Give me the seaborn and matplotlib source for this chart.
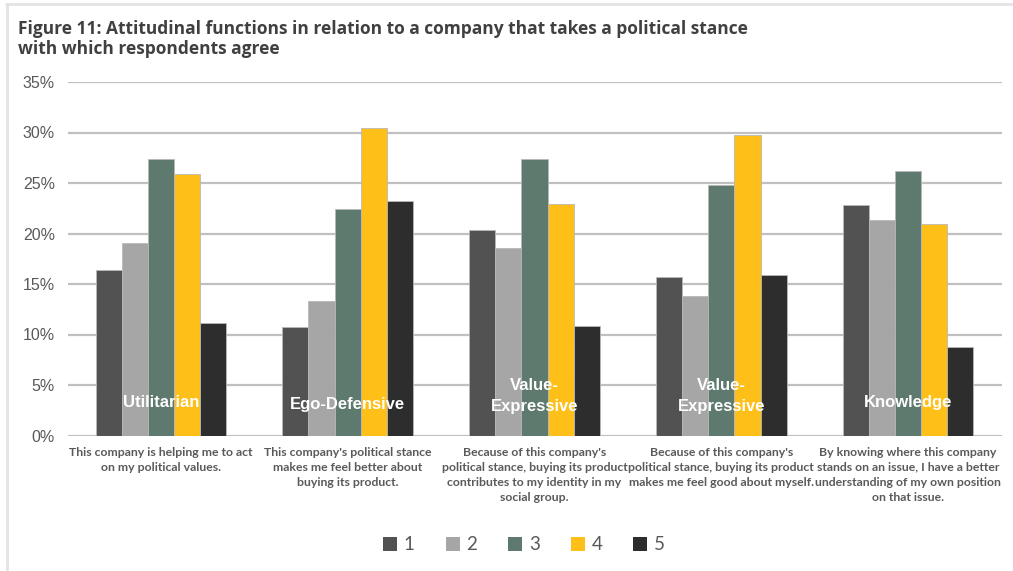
import matplotlib
matplotlib.use("Agg")
import matplotlib.pyplot as plt
from matplotlib.patches import Patch
from matplotlib.lines import Line2D
import seaborn as sns
import pandas as pd

# Survey statements (x categories) and the function each one measures
statements = [
    "This company is helping me to act\non my political values.",
    "This company's political stance\nmakes me feel better about\nbuying its product.",
    "Because of this company's\npolitical stance, buying its product\ncontributes to my identity in my\nsocial group.",
    "Because of this company's\npolitical stance, buying its product\nmakes me feel good about myself.",
    "By knowing where this company\nstands on an issue, I have a better\nunderstanding of my own position\non that issue.",
]
functions = ["Utilitarian", "Ego-Defensive", "Value-\nExpressive", "Value-\nExpressive", "Knowledge"]
ratings = ["1", "2", "3", "4", "5"]

# Share of respondents (%) giving each rating, per statement
rating_1 = [16.4, 10.7, 20.3, 15.7, 22.8]
rating_2 = [19.1, 13.3, 18.6, 13.8, 21.3]
rating_3 = [27.4, 22.4, 27.4, 24.8, 26.2]
rating_4 = [25.9, 30.4, 22.9, 29.8, 20.9]
rating_5 = [11.1, 23.2, 10.8, 15.9, 8.8]

colors = ["#525252", "#A6A6A6", "#5E7A6E", "#FEBF18", "#2D2D2D"]

series = [rating_1, rating_2, rating_3, rating_4, rating_5]
rows = []
for r, vals in zip(ratings, series):
    for s, v in zip(statements, vals):
        rows.append({"statement": s, "rating": r, "share": v})
df = pd.DataFrame(rows)

sns.set_theme(style="white")
plt.rcParams["font.family"] = ["Liberation Sans", "DejaVu Sans"]

fig = plt.figure(figsize=(10.13, 5.71), dpi=100)
ax = fig.add_axes([67.5 / 1013, 135.5 / 571, 934 / 1013, 353.5 / 571])

sns.barplot(data=df, x="statement", y="share", hue="rating", order=statements,
            hue_order=ratings, palette=colors, saturation=1, width=0.7, gap=0,
            edgecolor="#B8B8B8", linewidth=0.6, errorbar=None, legend=False,
            ax=ax, zorder=3)

ax.set_xlim(-0.5, 4.5)
ax.set_ylim(0, 35)
ax.set_yticks(range(0, 36, 5))
ax.set_yticklabels([f"{v}%" for v in range(0, 36, 5)], fontsize=11.5, color="#595959")
ax.yaxis.grid(True, color="#C0C0C0", linewidth=1.6, zorder=0)
ax.set_axisbelow(True)
for side in ["top", "right", "left", "bottom"]:
    ax.spines[side].set_visible(False)
ax.tick_params(axis="y", length=0, pad=9)
ax.tick_params(axis="x", length=0, pad=8)
ax.set_xlabel("")
ax.set_ylabel("")
ax.set_xticks(range(len(statements)))
ax.set_xticklabels(statements, fontsize=8.8, color="#5A5A5A", family="Lato",
                   fontweight="bold", linespacing=1.45)

# Function names written inside the bars
label_y = [3.3, 3.1, 3.9, 3.9, 3.3]
for i, (name, y) in enumerate(zip(functions, label_y)):
    ax.text(i, y, name, ha="center", va="center", color="white",
            fontsize=12, fontweight="bold", linespacing=1.45, zorder=5)

fig.text(18 / 1013, 1 - 39 / 571,
         "Figure 11: Attitudinal functions in relation to a company that takes a political stance\nwith which respondents agree",
         ha="left", va="center", fontsize=12.5, fontweight="bold", color="#404040",
         family="Open Sans", linespacing=1.2)

# Thin frame lines along the top and left edges
fig.add_artist(Line2D([6 / 1013, 1], [1 - 4 / 571, 1 - 4 / 571], color="#E4E4E4", linewidth=2))
fig.add_artist(Line2D([6.5 / 1013, 6.5 / 1013], [0, 1 - 4 / 571], color="#E4E4E4", linewidth=2))

handles = [Patch(facecolor=c, edgecolor="none") for c in colors]
fig.legend(handles, ratings, loc="center", bbox_to_anchor=(524 / 1013, 1 - 545 / 571),
           ncol=5, frameon=False, handlelength=0.75, handleheight=0.75,
           handletextpad=0.35, columnspacing=1.65,
           prop={"family": "Lato", "size": 13.5}, labelcolor="#595959")

fig.savefig("out.png", dpi=100)
